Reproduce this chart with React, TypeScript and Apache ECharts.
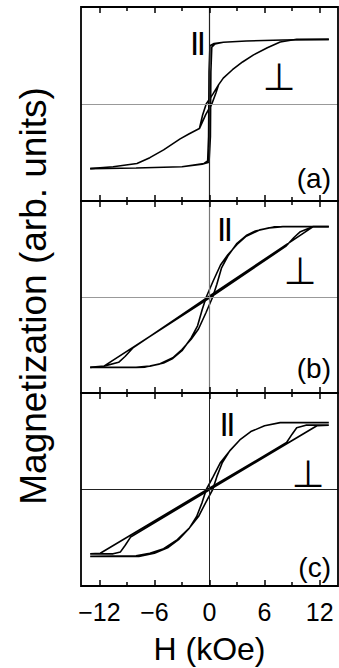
import React, { useEffect, useRef } from "react";
import * as echarts from "echarts";

// ---- data (H in kOe, M in arb. units) ----
const H_MAJOR = [-12, -6, 0, 6, 12];
const H_MINOR = [-9, -3, 3, 9];
const PANEL_LABELS = ["(a)", "(b)", "(c)"];

// panel (a)
const aParDown = [[13, 1.0], [8, 0.99], [4, 0.975], [1.5, 0.955], [0.5, 0.935], [0.05, 0.9], [-0.05, 0.5], [-0.1, -0.5], [-0.2, -0.88], [-0.6, -0.92], [-3, -0.97], [-8, -0.99], [-13, -1.0]];
const aParUp = [[-13, -1.0], [-8, -0.99], [-3, -0.97], [-0.8, -0.93], [-0.05, -0.9], [0.1, -0.5], [0.15, 0.5], [0.25, 0.88], [0.6, 0.93], [1.5, 0.955], [4, 0.975], [8, 0.99], [13, 1.0]];
const aPerpDown = [[13, 1.0], [9.5, 1.0], [7.7, 0.96], [6.3, 0.87], [4.8, 0.76], [3.6, 0.65], [2.5, 0.53], [1.5, 0.4], [1.0, 0.3], [0.4, 0.16], [-0.36, 0], [-0.75, -0.17], [-1.1, -0.38], [-2.2, -0.46], [-3.2, -0.54], [-5, -0.71], [-6.5, -0.83], [-7.9, -0.92], [-10.5, -0.97], [-13, -1.0]];
const aPerpUp = [[-13, -1.0], [-10.5, -0.97], [-7.9, -0.92], [-6.5, -0.83], [-5, -0.71], [-3.2, -0.54], [-2.2, -0.46], [-1.1, -0.38], [-0.4, -0.16], [0.25, 0], [0.7, 0.17], [1.0, 0.3], [1.5, 0.4], [2.5, 0.53], [3.6, 0.65], [4.8, 0.76], [6.3, 0.87], [7.7, 0.96], [9.5, 1.0], [13, 1.0]];

// panel (b)
const bParUp = [[-13, -1.1], [-8, -1.1], [-7, -1.095], [-5.5, -1.05], [-4, -0.95], [-3, -0.82], [-2, -0.66], [-1.2, -0.5], [-0.4, -0.25], [0.35, 0], [0.8, 0.2], [1.3, 0.45], [2, 0.64], [3, 0.84], [4, 0.96], [5, 1.03], [6.5, 1.08], [8, 1.1], [13, 1.1]];
const bParDown = [[13, 1.1], [8, 1.1], [7, 1.095], [5.5, 1.05], [4, 0.95], [3, 0.82], [2, 0.66], [1.2, 0.5], [0.4, 0.25], [-0.35, 0], [-0.8, -0.2], [-1.3, -0.45], [-2, -0.64], [-3, -0.84], [-4, -0.96], [-5, -1.03], [-6.5, -1.08], [-8, -1.1], [-13, -1.1]];
const bPerpUp = [[-13, -1.1], [-11.5, -1.08], [0.15, 0], [8.3, 0.79], [9.2, 0.93], [9.9, 1.02], [11.3, 1.1], [13, 1.1]];
const bPerpDown = [[13, 1.1], [11.3, 1.1], [-0.15, 0], [-8.3, -0.79], [-9.2, -0.93], [-9.9, -1.02], [-11.5, -1.08], [-13, -1.1]];

// panel (c)
const cParUp = [[-13, -1.04], [-8, -1.03], [-6.5, -0.99], [-5, -0.92], [-3.5, -0.78], [-2.2, -0.6], [-1.2, -0.42], [-0.4, -0.2], [0.35, 0], [0.8, 0.2], [1.4, 0.42], [2.2, 0.6], [3.3, 0.77], [4.5, 0.9], [6, 0.99], [7.7, 1.04], [13, 1.04]];
const cParDown = [[13, 1.04], [7.7, 1.04], [6, 0.99], [4.5, 0.9], [3.3, 0.77], [2.2, 0.6], [1.2, 0.42], [0.4, 0.2], [-0.35, 0], [-0.8, -0.2], [-1.4, -0.42], [-2.2, -0.6], [-3.3, -0.77], [-4.5, -0.9], [-6, -0.99], [-7.7, -1.04], [-13, -1.04]];
const cPerpUp = [[-13, -1.0], [-11.9, -0.99], [-0.25, 0], [8.4, 0.73], [9.0, 0.86], [9.5, 0.96], [10.5, 1.0], [13, 1.0]];
const cPerpDown = [[13, 1.0], [11.7, 0.99], [0.05, 0], [-8.6, -0.74], [-9.2, -0.87], [-9.7, -0.97], [-10.5, -1.0], [-13, -1.0]];

const PANELS = [
  { par: [aParDown, aParUp], perp: [aPerpDown, aPerpUp] },
  { par: [bParDown, bParUp], perp: [bPerpDown, bPerpUp] },
  { par: [cParDown, cParUp], perp: [cPerpDown, cPerpUp] },
];

const X_MIN = -14;
const X_MAX = 14;
const Y_MIN = -1.5;
const Y_MAX = 1.5;

const FONT = '"Liberation Sans", Arial, sans-serif';

export default function App() {
  const ref = useRef<HTMLDivElement>(null);
  useEffect(() => {
    if (!ref.current) return;
    const chart = echarts.init(ref.current, null, { renderer: "svg" });
    const grids = [
      { left: 81, top: 7, width: 257, height: 194 },
      { left: 81, top: 201, width: 257, height: 192 },
      { left: 81, top: 393, width: 257, height: 193 },
    ];

    const zeroStyles = [
      { v: { color: "#222", width: 1.2 }, h: { color: "#999", width: 1.2 } },
      { v: { color: "#777", width: 1.2 }, h: { color: "#999", width: 1.2 } },
      { v: { color: "#222", width: 1 }, h: { color: "#222", width: 1.2 } },
    ];

    const xAxes: any[] = [];
    const yAxes: any[] = [];
    const series: any[] = [];
    PANELS.forEach((p, i) => {
      const withLabel = i === 2;
      xAxes.push({
        type: "value",
        gridIndex: i,
        min: X_MIN,
        max: X_MAX,
        position: "bottom",
        axisLine: { show: false, onZero: false },
        axisTick: { show: false },
        splitLine: { show: false },
        axisLabel: withLabel
          ? {
              show: true,
              customValues: H_MAJOR,
              margin: 13,
              fontSize: 25,
              color: "#000",
              fontFamily: FONT,
              formatter: (v: number) => (v < 0 ? "\u2212" + Math.abs(v) : String(v)),
            }
          : { show: false },
        ...(withLabel
          ? {
              name: "H (kOe)",
              nameLocation: "middle",
              nameGap: 47,
              nameTextStyle: { fontSize: 32, color: "#000", fontFamily: FONT },
            }
          : {}),
      });
      yAxes.push({
        type: "value",
        gridIndex: i,
        min: Y_MIN,
        max: Y_MAX,
        axisLine: { show: false, onZero: false },
        axisTick: { show: false },
        axisLabel: { show: false },
        splitLine: { show: false },
      });

      // inward tick marks on top and bottom edges (lengths in px -> data units)
      const unitPx = grids[i].height / (Y_MAX - Y_MIN);
      const tickData: any[] = [];
      const addTicks = (vals: number[], lenPx: number) => {
        const d = lenPx / unitPx;
        vals.forEach((v) => {
          tickData.push([{ coord: [v, Y_MIN] }, { coord: [v, Y_MIN + d] }]);
          tickData.push([{ coord: [v, Y_MAX] }, { coord: [v, Y_MAX - d] }]);
        });
      };
      addTicks(H_MAJOR, 6);
      addTicks(H_MINOR, 4);

      const common = {
        type: "line",
        xAxisIndex: i,
        yAxisIndex: i,
        showSymbol: false,
        symbol: "none",
        silent: true,
        clip: false,
        lineStyle: { color: "#000", width: 1.6 },
      };
      series.push({
        ...common,
        name: "par" + i,
        data: [...p.par[0], ...p.par[1]],
        markLine: {
          silent: true,
          symbol: ["none", "none"],
          label: { show: false },
          data: [
            { xAxis: 0, lineStyle: { ...zeroStyles[i].v, type: "solid" } },
            { yAxis: 0, lineStyle: { ...zeroStyles[i].h, type: "solid" } },
          ],
        },
      });
      series.push({
        ...common,
        name: "perp" + i,
        data: [...p.perp[0], ...p.perp[1]],
        markLine: {
          silent: true,
          symbol: ["none", "none"],
          label: { show: false },
          lineStyle: { color: "#000", width: 1.5, type: "solid" },
          data: tickData,
        },
      });
    });

    const parPos = [
      [198, 41],
      [225, 227],
      [227.5, 422.5],
    ];
    const perpPos = [
      [279, 77],
      [300, 271],
      [308, 474],
    ];
    const labPos = [
      [331, 178.5],
      [331, 368.5],
      [331, 567],
    ];
    const graphic: any[] = grids.map((g) => ({
      type: "rect",
      silent: true,
      shape: { x: g.left, y: g.top, width: g.width, height: g.height },
      style: { fill: "none", stroke: "#000", lineWidth: 1.8 },
      z: 10,
    }));
    graphic.push({
      type: "text",
      x: 33,
      y: 296,
      rotation: Math.PI / 2,
      style: { text: "Magnetization (arb. units)", font: `37px ${FONT}`, fill: "#000", textAlign: "center", textVerticalAlign: "middle" },
    });
    PANELS.forEach((_, i) => {
      graphic.push({ type: "text", x: parPos[i][0], y: parPos[i][1], style: { text: "||", font: `bold 24px ${FONT}`, fill: "#000", textAlign: "center", textVerticalAlign: "middle" } });
      graphic.push({ type: "text", x: perpPos[i][0], y: perpPos[i][1], style: { text: "\u22A5", font: `38px "DejaVu Sans"`, fill: "#000", textAlign: "center", textVerticalAlign: "middle" } });
      graphic.push({ type: "text", x: labPos[i][0], y: labPos[i][1], style: { text: PANEL_LABELS[i], font: `28px ${FONT}`, fill: "#000", textAlign: "right", textVerticalAlign: "middle" } });
    });

    chart.setOption({
      animation: false,
      backgroundColor: "#fff",
      grid: grids,
      xAxis: xAxes,
      yAxis: yAxes,
      series,
      graphic,
    });
    return () => chart.dispose();
  }, []);
  return <div ref={ref} style={{ position: "absolute", left: 0, top: 0, width: 339, height: 668 }} />;
}
